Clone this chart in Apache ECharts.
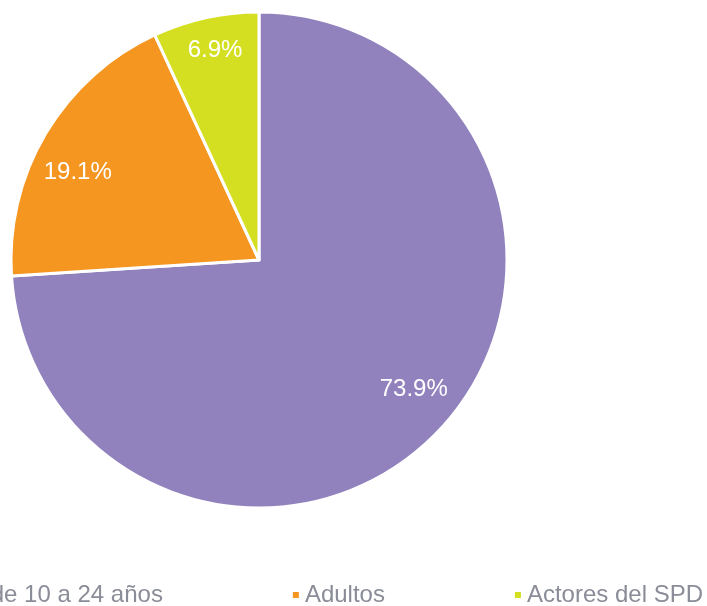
<!DOCTYPE html>
<html>
<head>
<meta charset="utf-8">
<script src="https://cdn.jsdelivr.net/npm/echarts@6/dist/echarts.min.js"></script>
<style>
  html, body { margin: 0; padding: 0; background: #fff; }
  #chart { width: 707px; height: 606px; }
</style>
</head>
<body>
<div id="chart"></div>
<script>
// datos del gráfico
const categories = ["Adolescentes y jóvenes de 10 a 24 años", "Adultos", "Actores del SPD"];
const values = [73.9, 19.1, 6.9];
const colors = ["#9182bd", "#f59620", "#d5df22"];

const CENTER = [259, 260];
const RADIUS = 248;
// pequeños ajustes de posición de las etiquetas
const labelOffsets = [[6, -10], [-6, 17], [0, -11]];

const pieData = categories.map((name, i) => ({
    name: name,
    value: values[i],
    itemStyle: { color: colors[i] },
}));

// segunda capa transparente solo para colocar las etiquetas más afuera
const labelData = categories.map((name, i) => ({
    name: name,
    value: values[i],
    label: { offset: labelOffsets[i] },
}));

var chart = echarts.init(document.getElementById("chart"), null, { renderer: "canvas" });

chart.setOption({
    animation: false,
    backgroundColor: "#fff",
    legend: {
        data: categories,
        right: 4,
        top: 583,
        padding: 0,
        width: 1400,
        itemGap: 128,
        itemWidth: 8,
        itemHeight: 8,
        icon: "rect",
        textStyle: {
            fontFamily: "Liberation Sans, Arial, sans-serif",
            fontSize: 24,
            color: "#8a8c98",
            padding: 0,
        },
        selectedMode: false,
    },
    series: [
        {
            name: "base",
            type: "pie",
            center: CENTER,
            radius: [0, RADIUS],
            startAngle: 90,
            clockwise: true,
            data: pieData,
            label: { show: false },
            labelLine: { show: false },
            itemStyle: { borderColor: "#fff", borderWidth: 3 },
            emphasis: { disabled: true },
        },
        {
            name: "labels",
            type: "pie",
            center: CENTER,
            radius: [RADIUS * 0.62, RADIUS],
            startAngle: 90,
            clockwise: true,
            silent: true,
            data: labelData,
            itemStyle: { color: "rgba(0,0,0,0)" },
            label: {
                show: true,
                position: "inside",
                formatter: p => p.value.toFixed(1) + "%",
                fontFamily: "Liberation Sans, Arial, sans-serif",
                fontSize: 24,
                color: "#fff",
            },
            labelLine: { show: false },
            emphasis: { disabled: true },
        },
    ],
});
</script>
</body>
</html>
